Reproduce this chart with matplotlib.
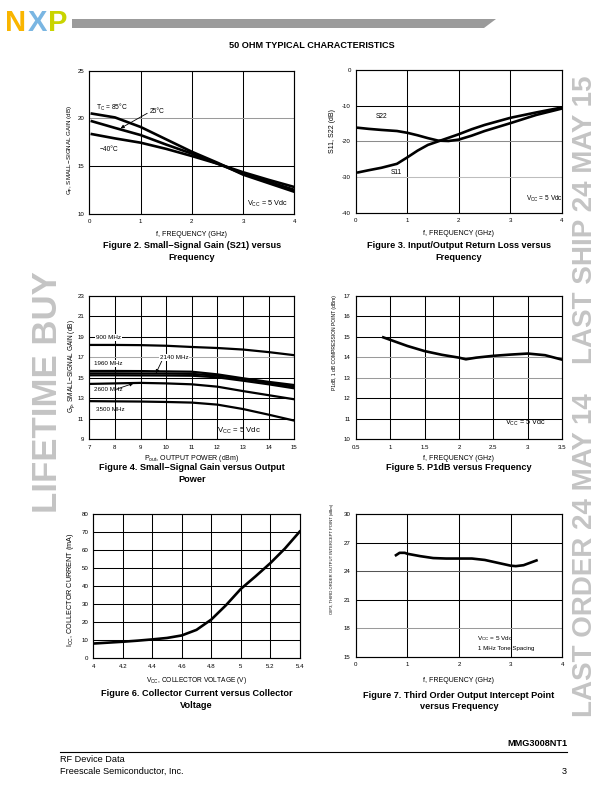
import matplotlib
matplotlib.use('Agg')
import matplotlib.pyplot as plt
from matplotlib.patches import Polygon

plt.rcParams['font.family'] = ['Liberation Sans', 'DejaVu Sans']
plt.rcParams['mathtext.fontset'] = 'custom'
plt.rcParams['mathtext.rm'] = 'Liberation Sans'
plt.rcParams['mathtext.it'] = 'Liberation Sans:italic'
plt.rcParams['axes.unicode_minus'] = False

# ---------------- data ----------------
# Figure 2: small-signal gain vs frequency
s21_freq = [0.05, 0.5, 1.0, 1.5, 2.0, 2.5, 3.0, 3.5, 4.0]
s21_gain_85 = [20.5, 20.1, 19.1, 17.8, 16.5, 15.35, 14.1, 13.2, 12.3]
s21_gain_25 = [19.7, 19.0, 18.25, 17.25, 16.3, 15.25, 14.2, 13.35, 12.5]
s21_gain_m40 = [18.35, 17.9, 17.45, 16.8, 16.05, 15.25, 14.35, 13.55, 12.8]

# Figure 3: return loss
rl_freq = [0.05, 0.25, 0.5, 0.8, 1.0, 1.2, 1.4, 1.6, 1.8, 2.0, 2.25, 2.5, 3.0, 3.5, 4.0]
rl_s11 = [-28.7, -28.1, -27.4, -26.3, -24.5, -22.6, -21.0, -20.0, -19.0, -18.0, -16.6, -15.4, -13.4, -11.9, -10.5]
rl_s22 = [-16.2, -16.5, -16.8, -17.1, -17.6, -18.3, -19.1, -19.8, -19.9, -19.5, -18.4, -17.1, -14.9, -12.6, -10.8]

# Figure 4: gain vs output power
pout = [7, 8, 9, 10, 11, 12, 13, 14, 15]
g_900 = [18.2, 18.2, 18.18, 18.12, 18.0, 17.9, 17.75, 17.5, 17.2]
g_1960 = [15.66, 15.66, 15.65, 15.62, 15.59, 15.33, 14.95, 14.6, 14.29]
g_2140 = [15.43, 15.43, 15.42, 15.41, 15.38, 15.2, 14.88, 14.5, 14.13]
g_2140b = [15.24, 15.24, 15.23, 15.22, 15.2, 15.04, 14.71, 14.36, 13.97]
g_2600 = [14.4, 14.45, 14.5, 14.45, 14.36, 14.13, 13.7, 13.3, 12.9]
g_3500 = [12.72, 12.7, 12.68, 12.64, 12.58, 12.38, 11.95, 11.4, 10.82]

# Figure 5: P1dB vs frequency
p1_freq = [0.9, 1.0, 1.25, 1.5, 1.75, 2.0, 2.1, 2.25, 2.5, 2.75, 3.0, 3.25, 3.5]
p1_db = [14.97, 14.85, 14.55, 14.3, 14.12, 13.98, 13.9, 13.98, 14.07, 14.13, 14.18, 14.1, 13.88]

# Figure 6: collector current vs voltage
vcc = [4.0, 4.1, 4.2, 4.3, 4.4, 4.5, 4.6, 4.7, 4.8, 4.9, 5.0, 5.1, 5.2, 5.3, 5.4]
icc = [8.2, 8.7, 9.2, 9.8, 10.5, 11.3, 12.7, 15.8, 21.5, 29.5, 38.5, 45.5, 52.8, 61.0, 70.4]

# Figure 7: OIP3 vs frequency
ip3_freq = [0.78, 0.85, 0.95, 1.0, 1.25, 1.5, 1.75, 2.0, 2.25, 2.5, 2.75, 3.0, 3.1, 3.25, 3.5]
ip3 = [25.7, 25.95, 25.95, 25.85, 25.6, 25.4, 25.35, 25.35, 25.35, 25.2, 24.9, 24.6, 24.55, 24.65, 25.15]

# ticks
f4_ticks = [0, 1, 2, 3, 4]
f4_labels = ['0', '1', '2', '3', '4']
g_ticks = [10, 15, 20, 25]
rl_ticks = [-40, -30, -20, -10, 0]
pout_ticks = [7, 8, 9, 10, 11, 12, 13, 14, 15]
g4_ticks = [9, 11, 13, 15, 17, 19, 21, 23]
p1f_ticks = [0.5, 1, 1.5, 2, 2.5, 3, 3.5]
p1f_labels = ['0.5', '1', '1.5', '2', '2.5', '3', '3.5']
p1_ticks = [10, 11, 12, 13, 14, 15, 16, 17]
v_ticks = [4, 4.2, 4.4, 4.6, 4.8, 5, 5.2, 5.4]
v_labels = ['4', '4.2', '4.4', '4.6', '4.8', '5', '5.2', '5.4']
i_ticks = [0, 10, 20, 30, 40, 50, 60, 70, 80]
ip3_ticks = [15, 18, 21, 24, 27, 30]

# ---------------- figure ----------------
W, H = 612, 792
fig = plt.figure(figsize=(W / 100, H / 100), dpi=100)
TICK_FS = 4.4
LW = 1.9


def make_axes(box):
    l, t, r, b = box
    return fig.add_axes([l / W, 1 - b / H, (r - l) / W, (b - t) / H])


def fig_text(x, y, s, **kw):
    return fig.text(x / W, 1 - y / H, s, **kw)


def style(ax, box, xlim, ylim, xticks, xtl, yticks, ytl, hcolors,
          xlabel, xlab_y, xlab_fs, ylabel, ylab_xy, ylab_fs, caption, cap_y):
    l, t, r, b = box
    ax.set_xlim(*xlim)
    ax.set_ylim(*ylim)
    ax.set_xticks(xticks)
    ax.set_xticklabels(xtl, fontsize=TICK_FS)
    ax.set_yticks(yticks)
    ax.set_yticklabels(ytl, fontsize=TICK_FS)
    ax.tick_params(axis='x', length=0, pad=3.9)
    ax.tick_params(axis='y', length=0, pad=3.6)
    for s in ax.spines.values():
        s.set_linewidth(0.85)
        s.set_color('black')
    for xv in xticks[1:-1]:
        ax.axvline(xv, color='black', lw=0.75, zorder=1)
    for yv, c in zip(yticks[1:-1], hcolors):
        ax.axhline(yv, color=c, lw=0.75, zorder=1)
    ax.set_xlabel(xlabel, fontsize=xlab_fs)
    ax.xaxis.label.set_va('center')
    ax.xaxis.set_label_coords(0.5, (b - xlab_y) / (b - t))
    ax.set_ylabel(ylabel, fontsize=ylab_fs)
    ax.yaxis.label.set_va('center')
    ax.yaxis.set_label_coords((ylab_xy[0] - l) / (r - l), (b - ylab_xy[1]) / (b - t))
    cx = (l + r) / 2
    for i, line in enumerate(caption):
        fig_text(cx, cap_y + i * 11.5, line, ha='center', va='center',
                 fontsize=6.6, fontweight='bold')


def arrow(ax, head, tail):
    ax.annotate('', xy=head, xytext=tail,
                arrowprops=dict(arrowstyle='-|>', color='black', lw=0.6,
                                mutation_scale=5, shrinkA=0, shrinkB=0))


WB = dict(facecolor='white', edgecolor='none', pad=0.6)
VCC = r'$\mathregular{V_{CC}}$ = 5 Vdc'

# ----- Figure 2 -----
b2 = (89.3, 70.7, 294.3, 213.7)
ax2 = make_axes(b2)
for g in (s21_gain_85, s21_gain_25, s21_gain_m40):
    ax2.plot(s21_freq, g, color='black', lw=LW, zorder=3)
style(ax2, b2, (0, 4), (10, 25), f4_ticks, f4_labels, g_ticks,
      [str(v) for v in g_ticks], ['black', '#9a9a9a'],
      'f, FREQUENCY (GHz)', 234, 5.0,
      r'$\mathregular{G_p}$, SMALL$-$SIGNAL GAIN (dB)', (70.7, 150), 4.5,
      ['Figure 2. Small\u2212Signal Gain (S21) versus', 'Frequency'], 245.5)
ax2.text(0.125, 21.1, r'$\mathregular{T_C}$ = 85°C', fontsize=4.8, va='center')
ax2.text(1.18, 20.7, '25°C', fontsize=4.8, va='center')
arrow(ax2, (0.61, 18.96), (1.13, 20.53))
ax2.text(0.195, 16.78, '\u221240°C', fontsize=4.8, va='center')
ax2.text(3.07, 11.0, VCC, fontsize=5.2, va='center')

# ----- Figure 3 -----
b3 = (355.7, 70.0, 562.0, 212.7)
ax3 = make_axes(b3)
ax3.plot(rl_freq, rl_s22, color='black', lw=LW, zorder=3)
ax3.plot(rl_freq, rl_s11, color='black', lw=LW, zorder=3)
style(ax3, b3, (0, 4), (-40, 0), f4_ticks, f4_labels, rl_ticks,
      [str(v) for v in rl_ticks], ['#bdbdbd', '#8c8c8c', 'black'],
      'f, FREQUENCY (GHz)', 233.5, 5.0,
      'S11, S22 (dB)', (333, 131), 5.0,
      ['Figure 3. Input/Output Return Loss versus', 'Frequency'], 245.5)
ax3.text(0.39, -12.9, 'S22', fontsize=4.8, va='center')
ax3.text(0.68, -28.6, 'S11', fontsize=4.8, va='center', zorder=4)
ax3.text(3.3, -36.2, VCC, fontsize=4.7, va='center')

# ----- Figure 4 -----
b4 = (89.3, 295.7, 294.3, 439.3)
ax4 = make_axes(b4)
for g in (g_900, g_1960, g_2140, g_2140b, g_2600, g_3500):
    ax4.plot(pout, g, color='black', lw=1.6, zorder=3)
style(ax4, b4, (7, 15), (9, 23), pout_ticks, [str(v) for v in pout_ticks],
      g4_ticks, [str(v) for v in g4_ticks],
      ['black', 'black', 'black', '#a8a8a8', 'black', 'black'],
      r'$\mathregular{P_{out}}$, OUTPUT POWER (dBm)', 458.3, 5.0,
      r'$\mathregular{G_p}$, SMALL$-$SIGNAL GAIN (dB)', (71.5, 366), 4.7,
      ['Figure 4. Small\u2212Signal Gain versus Output', 'Power'], 468)
ax4.text(7.25, 18.95, '900 MHz', fontsize=4.5, va='center', bbox=WB, zorder=4)
ax4.text(7.18, 16.4, '1960 MHz', fontsize=4.5, va='center', bbox=WB, zorder=4)
ax4.text(9.76, 16.96, '2140 MHz', fontsize=4.5, va='center', bbox=WB, zorder=4)
arrow(ax4, (9.6, 15.44), (9.83, 16.64))
ax4.text(7.2, 13.81, '2600 MHz', fontsize=4.5, va='center', zorder=4)
arrow(ax4, (8.72, 14.45), (8.07, 13.9))
ax4.text(7.25, 11.89, '3500 MHz', fontsize=4.5, va='center', zorder=4)
ax4.text(11.98, 9.84, VCC, fontsize=5.6, va='center')

# ----- Figure 5 -----
b5 = (355.7, 295.7, 562.3, 439.3)
ax5 = make_axes(b5)
ax5.plot(p1_freq, p1_db, color='black', lw=LW, zorder=3)
style(ax5, b5, (0.5, 3.5), (10, 17), p1f_ticks, p1f_labels, p1_ticks,
      [str(v) for v in p1_ticks],
      ['black', 'black', '#9a9a9a', '#9a9a9a', 'black', 'black'],
      'f, FREQUENCY (GHz)', 458.3, 5.0,
      'P1dB, 1 dB COMPRESSION POINT (dBm)', (335, 343), 3.6,
      ['Figure 5. P1dB versus Frequency'], 468)
ax5.text(2.67, 10.8, VCC, fontsize=5.2, va='center')

# ----- Figure 6 -----
b6 = (93.3, 514.3, 299.7, 658.3)
ax6 = make_axes(b6)
ax6.plot(vcc, icc, color='black', lw=LW, zorder=3)
style(ax6, b6, (4, 5.4), (0, 80), v_ticks, v_labels, i_ticks,
      [str(v) for v in i_ticks], ['black'] * 7,
      r'$\mathregular{V_{CC}}$, COLLECTOR VOLTAGE (V)', 680, 4.8,
      r'$\mathregular{I_{CC}}$, COLLECTOR CURRENT (mA)', (70, 590), 5.2,
      ['Figure 6. Collector Current versus Collector', 'Voltage'], 694)

# ----- Figure 7 -----
b7 = (355.7, 514.3, 562.3, 657.0)
ax7 = make_axes(b7)
ax7.plot(ip3_freq, ip3, color='black', lw=LW, zorder=3)
style(ax7, b7, (0, 4), (15, 30), f4_ticks, f4_labels, ip3_ticks,
      [str(v) for v in ip3_ticks], ['#9a9a9a', 'black', '#555555', 'black'],
      'f, FREQUENCY (GHz)', 680, 5.0,
      'OIP3, THIRD ORDER OUTPUT INTERCEPT POINT (dBm)', (332, 559), 3.0,
      ['Figure 7. Third Order Output Intercept Point', 'versus Frequency'], 695)
ax7.text(2.35, 16.93, VCC, fontsize=4.6, va='center')
ax7.text(2.36, 15.87, '1 MHz Tone Spacing', fontsize=4.4, va='center')

# ---------------- page furniture ----------------
# watermarks
WM = '#c4c4c4'
fig_text(47.5, 392, 'LIFETIME BUY', rotation=90, ha='center', va='center',
         fontsize=25, fontweight='bold', color=WM, zorder=0)
fig_text(585, 220, 'LAST SHIP 24 MAY 15', rotation=90, ha='center', va='center',
         fontsize=20, fontweight='bold', color=WM, zorder=0)
fig_text(585, 555, 'LAST ORDER 24 MAY 14', rotation=90, ha='center', va='center',
         fontsize=20, fontweight='bold', color=WM, zorder=0)

# logo
fig_text(5, 31, 'N', fontsize=21, fontweight='bold', color='#F9B500', va='baseline')
fig_text(27.5, 31, 'X', fontsize=21, fontweight='bold', color='#7AB6E2', va='baseline')
fig_text(48.5, 31, 'P', fontsize=21, fontweight='bold', color='#C9D400', va='baseline')

# header bar
bar = Polygon([(72 / W, 1 - 19 / H), (496 / W, 1 - 19 / H), (484 / W, 1 - 28 / H),
               (72 / W, 1 - 28 / H)], closed=True, transform=fig.transFigure,
              facecolor='#9b9b9b', edgecolor='none')
fig.patches.append(bar)

fig_text(312, 46, '50 OHM TYPICAL CHARACTERISTICS', ha='center', va='center',
         fontsize=6.6, fontweight='bold')

# footer
fig_text(567, 743, 'MMG3008NT1', ha='right', va='center', fontsize=6.6, fontweight='bold')
fig.add_artist(plt.Line2D([60 / W, 567 / W], [1 - 752 / H, 1 - 752 / H],
                          transform=fig.transFigure, color='black', lw=0.8))
fig_text(60, 760, 'RF Device Data', ha='left', va='center', fontsize=6.6)
fig_text(60, 771, 'Freescale Semiconductor, Inc.', ha='left', va='center', fontsize=6.6)
fig_text(567, 771, '3', ha='right', va='center', fontsize=6.6)

fig.savefig('out.png', dpi=100)
